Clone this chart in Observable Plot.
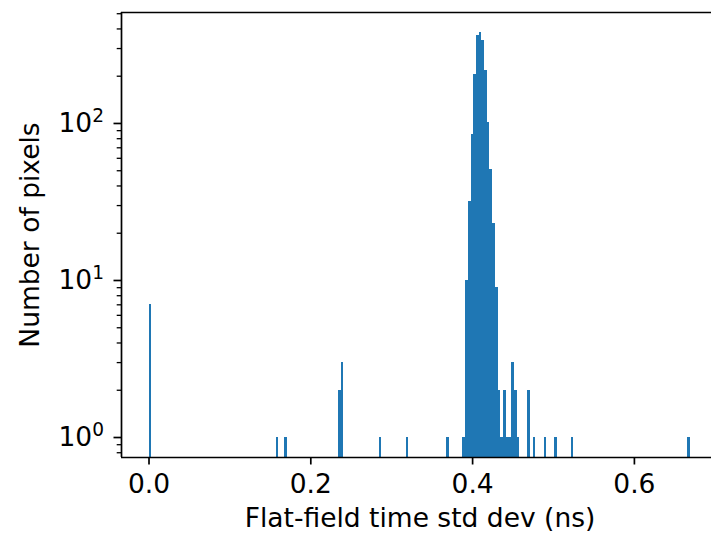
<!DOCTYPE html>
<html>
<head>
<meta charset="utf-8">
<script src="https://cdn.jsdelivr.net/npm/d3@7"></script>
<script src="https://cdn.jsdelivr.net/npm/@observablehq/plot@0.6"></script>
<style>
  html, body { margin: 0; padding: 0; background: #ffffff; }
  #chart svg { display: block; }
</style>
</head>
<body>
<div id="chart"></div>
<script>
// Histogram bins: left edge of each non-empty bin (ns) and pixel count
const binStart = [0, 0.157215, 0.16725, 0.23415, 0.2375, 0.284325, 0.317775, 0.36795,
  0.38802, 0.391365, 0.39471, 0.398055, 0.4014, 0.404745, 0.40809, 0.411435, 0.41478,
  0.418125, 0.42147, 0.424815, 0.42816, 0.431505, 0.43485, 0.438195, 0.44154, 0.444885,
  0.44823, 0.451575, 0.45492, 0.4683, 0.47499, 0.48837, 0.50175, 0.52182, 0.665655];
const binCount = [7, 1, 1, 2, 3, 1, 1, 1,
  1, 10, 32, 85, 205, 363, 380, 338, 218,
  101, 51, 23, 9, 2, 1, 2, 1, 1,
  3, 2, 1, 2, 1, 1, 1, 1, 1];
const binWidth = 0.003345;

const xTicks = [0, 0.2, 0.4, 0.6];
const xTickLabels = ["0.0", "0.2", "0.4", "0.6"];
const yTicks = [1, 10, 100];
const yTickBase = "10";
const yTickExponents = ["0", "1", "2"];
const yMinorTicks = [0.8, 0.9, 2, 3, 4, 5, 6, 7, 8, 9, 20, 30, 40, 50, 60, 70, 80, 90, 200, 300, 400, 500];

const xLabel = "Flat-field time std dev (ns)";
const yLabel = "Number of pixels";

const xDomain = [-0.034, 0.6953];
const yDomain = [0.746, 509];

const table = binStart.map((s, i) => ({x1: s, x2: s + binWidth, y1: yDomain[0], y2: binCount[i]}));
const xLab = new Map(xTicks.map((t, i) => [t, xTickLabels[i]]));
const yExp = new Map(yTicks.map((t, i) => [t, yTickExponents[i]]));

const FS = 26.5;

const chart = Plot.plot({
  width: 711,
  height: 537,
  marginLeft: 121,
  marginRight: 0,
  marginTop: 12,
  marginBottom: 80,
  x: {domain: xDomain},
  y: {type: "log", domain: yDomain},
  style: {fontFamily: "'DejaVu Sans', sans-serif", fontSize: FS + "px", color: "#000", background: "#fff"},
  marks: [
    Plot.rect(table, {x1: "x1", x2: "x2", y1: "y1", y2: "y2", fill: "#1f77b4", shapeRendering: "crispEdges"}),
    Plot.axisX({ticks: xTicks, tickFormat: d => xLab.get(d), tickSize: 7.5, tickPadding: 9, strokeWidth: 1.7, fontSize: FS, label: null}),
    Plot.axisY({ticks: yTicks, tickFormat: d => yTickBase + "|" + yExp.get(d), tickSize: 7.5, tickPadding: 10, strokeWidth: 1.7, fontSize: FS, label: null}),
    Plot.axisY({ticks: yMinorTicks, tickFormat: () => "", tickSize: 4.3, strokeWidth: 1.3, label: null}),
    Plot.ruleX([xDomain[0]], {stroke: "#000", strokeWidth: 1.7}),
    Plot.ruleY([yDomain[0]], {stroke: "#000", strokeWidth: 1.7}),
    Plot.ruleY([yDomain[1]], {stroke: "#000", strokeWidth: 1.7}),
    Plot.text([xLabel], {frameAnchor: "bottom", dy: 69, dx: 3.5, fontSize: FS, fill: "#000", textAnchor: "middle"}),
    Plot.text([yLabel], {frameAnchor: "left", rotate: -90, dx: -91, fontSize: FS, fill: "#000", textAnchor: "middle"})
  ]
});

// Render "10|n" labels as 10 with a superscript exponent (real text)
const NS = "http://www.w3.org/2000/svg";
chart.querySelectorAll("text").forEach(t => {
  const s = t.textContent;
  if (!s.includes("|")) return;
  const [base, exp] = s.split("|");
  while (t.firstChild) t.removeChild(t.firstChild);
  const b = document.createElementNS(NS, "tspan");
  b.textContent = base;
  const e = document.createElementNS(NS, "tspan");
  e.textContent = exp;
  e.setAttribute("font-size", (FS * 0.7) + "px");
  e.setAttribute("dy", "-0.55em");
  t.appendChild(b);
  t.appendChild(e);
});
document.getElementById("chart").appendChild(chart);
</script>
</body>
</html>
